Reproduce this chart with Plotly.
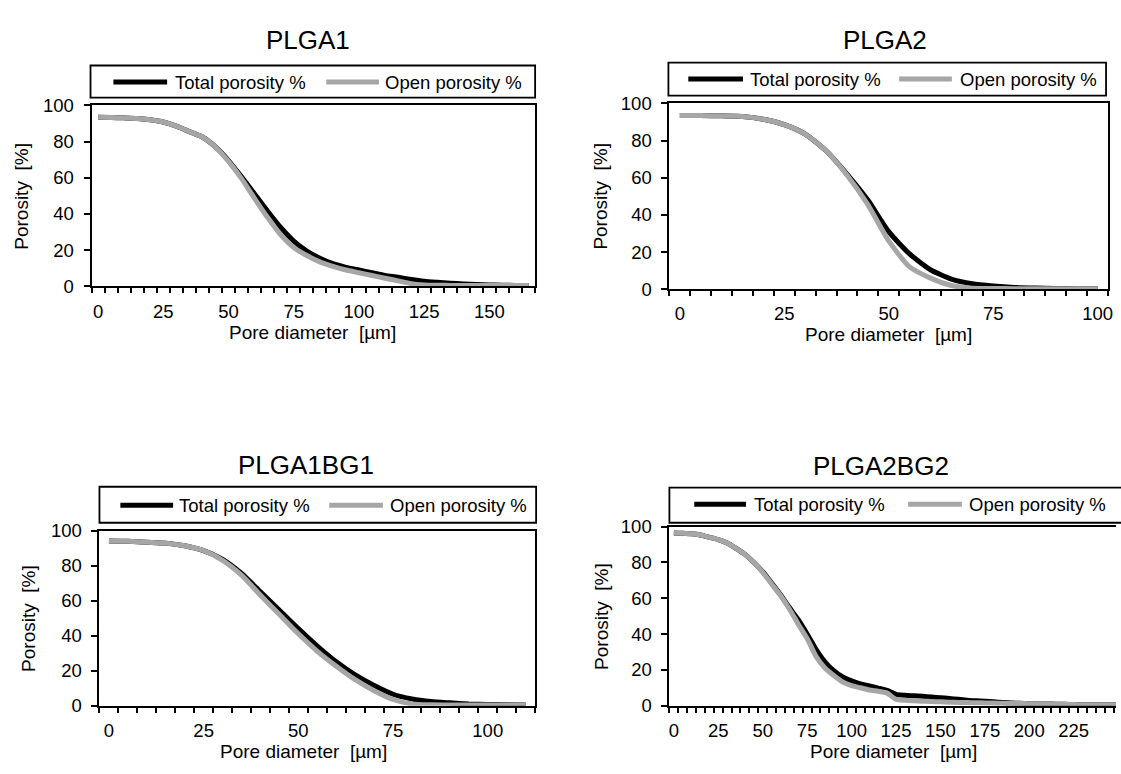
import plotly.graph_objects as go

W, H = 1121, 774
FONT = "Arial, 'Liberation Sans', sans-serif"

# ---------------- data (pore diameter in µm, porosity in %) ----------------
titles = ["PLGA1", "PLGA2", "PLGA1BG1", "PLGA2BG2"]
series_names = ["Total porosity %", "Open porosity %"]
x_title = "Pore diameter \u00a0[µm]"
y_title = "Porosity \u00a0[%]"

x1 = list(range(0, 170, 5))
tot1 = [93.5, 93.3, 93.1, 92.8, 92.0, 90.8, 88.5, 85.5, 82.5, 77.0, 69.5, 60.5,
        51.0, 41.5, 32.5, 25.0, 19.5, 15.5, 12.5, 10.5, 9.0, 7.5, 6.0, 5.0,
        3.8, 2.8, 2.2, 1.7, 1.3, 1.0, 0.8, 0.6, 0.5, 0.5]
open1 = [93.5, 93.3, 93.1, 92.8, 92.0, 90.8, 88.5, 85.5, 82.5, 77.0, 69.0, 59.5,
         48.5, 38.0, 28.5, 21.5, 17.0, 13.5, 11.0, 9.0, 7.5, 6.0, 4.5, 3.0,
         1.5, 0.8, 0.6, 0.5, 0.5, 0.5, 0.5, 0.5, 0.5, 0.5]

x2 = list(range(0, 105, 5))
tot2 = [93.5, 93.5, 93.3, 93.0, 91.5, 88.6, 83.5, 74.5, 62.0, 48.0, 31.0,
        19.0, 10.5, 5.5, 3.0, 1.8, 1.0, 0.6, 0.4, 0.3, 0.3]
open2 = [93.5, 93.5, 93.3, 93.0, 91.5, 88.6, 83.5, 74.5, 61.5, 45.5, 26.0,
         12.0, 6.0, 2.0, 0.6, 0.4, 0.3, 0.3, 0.3, 0.3, 0.3]

x3 = list(range(0, 115, 5))
tot3 = [94.0, 93.8, 93.3, 92.8, 91.3, 88.5, 83.5, 75.5, 65.0, 54.5, 44.0, 34.0,
        25.0, 17.5, 11.5, 6.5, 3.8, 2.3, 1.6, 1.0, 0.7, 0.5, 0.4]
open3 = [94.0, 93.8, 93.3, 92.8, 91.3, 88.5, 83.0, 74.5, 63.0, 52.0, 41.0, 31.0,
         22.5, 14.8, 8.5, 3.5, 1.0, 0.5, 0.4, 0.4, 0.4, 0.4, 0.4]

x4 = list(range(0, 255, 5))
tot4 = [96.5, 96.3, 96.0, 95.3, 94.0, 92.7, 90.8, 87.8, 84.5, 80.0, 74.8, 68.5,
        62.0, 54.8, 48.0, 40.0, 31.5, 24.5, 19.5, 16.0, 13.8, 12.2, 11.0, 9.8,
        8.5, 6.3, 5.8, 5.5, 5.2, 4.8, 4.4, 4.0, 3.5, 3.0, 2.7, 2.4, 2.1, 1.8,
        1.5, 1.3, 1.1, 1.0, 0.9, 0.8, 0.7, 0.6, 0.5, 0.5, 0.5, 0.5, 0.5]
open4 = [96.5, 96.3, 96.0, 95.3, 94.0, 92.7, 90.8, 87.8, 84.5, 80.0, 74.5, 68.0,
         61.5, 54.0, 45.5, 37.5, 27.5, 21.0, 16.8, 13.2, 11.2, 10.0, 8.7, 8.0,
         7.0, 3.5, 3.0, 2.7, 2.5, 2.3, 2.1, 1.9, 1.8, 1.7, 1.6, 1.5, 1.4, 1.3,
         1.2, 1.2, 1.1, 1.0, 0.9, 0.8, 0.7, 0.6, 0.5, 0.5, 0.5, 0.5, 0.5]

xs = [x1, x2, x3, x4]
tots = [tot1, tot2, tot3, tot4]
opens = [open1, open2, open3, open4]
x_ranges = [[-2.5, 167.5], [-2.5, 102.5], [-2.5, 112.5], [-2.5, 248.8]]

# ---------------- layout geometry (pixels) ----------------
boxes = [(91, 97, 537, 283), (672, 95, 1113, 286), (99, 534, 537, 714), (672, 530, 1121, 714)]
legend_boxes = [(90, 56, 537, 89), (671, 53, 1111, 87), (99, 489, 538, 526), (672, 490, 1130, 526)]
legend_items = [
    ((113, 167, 173), (327, 380, 384), 73),
    ((691, 746, 751), (903, 956, 962), 70),
    ((120, 173, 177), (330, 384, 389), 508),
    ((697, 749, 755), (912, 966, 971), 507),
]
title_pos = [(309, 30), (889, 30), (307, 467), (885, 468)]
ytitle_pos = [(21, 190), (603, 190), (27, 624), (603, 622)]
xtitle_x = [313, 892, 304, 897]


def fx(p):
    return p / W


def fy(p):
    return 1 - p / H


fig = go.Figure()
shapes = []
annotations = []
layout = {}

for i in range(4):
    sfx = "" if i == 0 else str(i + 1)
    xa, ya = "x" + sfx, "y" + sfx
    l, t, r, b = boxes[i]
    fig.add_trace(go.Scatter(x=xs[i], y=tots[i], name=series_names[0], mode="lines",
                             line=dict(color="#000000", width=5, shape="spline", smoothing=0.6),
                             xaxis=xa, yaxis=ya, showlegend=False))
    fig.add_trace(go.Scatter(x=xs[i], y=opens[i], name=series_names[1], mode="lines",
                             line=dict(color="#a6a6a6", width=5, shape="spline", smoothing=0.6),
                             xaxis=xa, yaxis=ya, showlegend=False))
    layout["xaxis" + sfx] = dict(
        domain=[fx(l), min(fx(r), 1.0)], anchor=ya, range=x_ranges[i],
        tickmode="linear", tick0=0, dtick=25, ticks="outside", ticklen=0,
        ticklabelstandoff=7,
        tickfont=dict(size=18.5, color="#000", family=FONT),
        showline=True, linecolor="#000", linewidth=2, mirror=True,
        showgrid=False, zeroline=False,
        minor=dict(ticks="outside", ticklen=5, tickwidth=1.5, tickcolor="#000",
                   tickmode="linear", tick0=-2.5, dtick=5, showgrid=False),
    )
    layout["yaxis" + sfx] = dict(
        domain=[fy(b), fy(t)], anchor=xa, range=[0, 100],
        tickmode="linear", tick0=0, dtick=20, ticks="outside", ticklen=6,
        tickwidth=2, tickcolor="#000", ticklabelstandoff=6,
        tickfont=dict(size=18.5, color="#000", family=FONT),
        showline=True, linecolor="#000", linewidth=2, mirror=(i != 3),
        showgrid=False, zeroline=False,
    )
    lb = legend_boxes[i]
    shapes.append(dict(type="rect", xref="paper", yref="paper",
                       x0=fx(lb[0]), x1=fx(lb[2]), y0=fy(lb[3]), y1=fy(lb[1]),
                       line=dict(color="#000", width=1.8), fillcolor="rgba(0,0,0,0)"))
    (tl0, tl1, ttx), (ol0, ol1, otx), ly = legend_items[i]
    for (a0, a1, tx), col, name in [((tl0, tl1, ttx), "#000000", series_names[0]),
                                    ((ol0, ol1, otx), "#a6a6a6", series_names[1])]:
        shapes.append(dict(type="line", xref="paper", yref="paper",
                           x0=fx(a0), x1=fx(a1), y0=fy(ly), y1=fy(ly),
                           line=dict(color=col, width=5)))
        annotations.append(dict(text=name, xref="paper", yref="paper",
                                x=fx(tx), y=fy(ly), xanchor="left", yanchor="middle",
                                showarrow=False, font=dict(size=18.5, color="#000", family=FONT)))
    annotations.append(dict(text=titles[i], xref="paper", yref="paper",
                            x=fx(title_pos[i][0]), y=fy(title_pos[i][1]),
                            xanchor="center", yanchor="middle", showarrow=False,
                            font=dict(size=26, color="#000", family=FONT)))
    if i < 2:
        xt = dict(y=fy(b + 47), yanchor="middle")
    else:
        xt = dict(y=0.0, yanchor="bottom")
    annotations.append(dict(text=x_title, xref="paper", yref="paper",
                            x=fx(xtitle_x[i]), xanchor="center", showarrow=False,
                            font=dict(size=19, color="#000", family=FONT), **xt))
    annotations.append(dict(text=y_title, xref="paper", yref="paper",
                            x=fx(ytitle_pos[i][0]), y=fy(ytitle_pos[i][1]),
                            xanchor="center", yanchor="middle", textangle=-90,
                            showarrow=False,
                            font=dict(size=19, color="#000", family=FONT)))

fig.update_layout(
    width=W, height=H, margin=dict(l=0, r=0, t=0, b=0),
    paper_bgcolor="white", plot_bgcolor="white",
    font=dict(family=FONT, color="#000"),
    shapes=shapes, annotations=annotations, showlegend=False,
    **layout,
)

fig.write_html("out.html")
